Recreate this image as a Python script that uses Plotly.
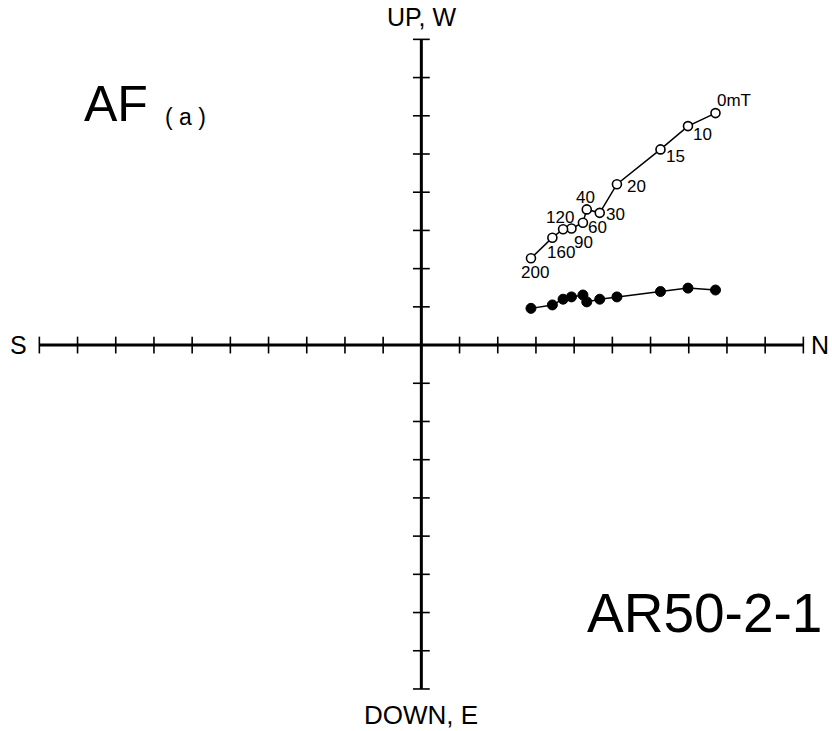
import plotly.graph_objects as go

# AF demagnetization steps (mT)
steps = ["0mT", "10", "15", "20", "30", "40", "60", "90", "120", "160", "200"]
# North component (shared by both projections), in axis-tick units
north = [7.70, 6.98, 6.26, 5.12, 4.67, 4.33, 4.23, 3.93, 3.71, 3.43, 2.87]
# Vertical projection (UP) - open circles
up = [6.07, 5.73, 5.12, 4.21, 3.46, 3.55, 3.20, 3.05, 3.03, 2.81, 2.27]
# Horizontal projection (W) - filled circles
west = [1.44, 1.49, 1.40, 1.26, 1.20, 1.13, 1.31, 1.26, 1.20, 1.05, 0.96]

x_ticks = list(range(-10, 11))
y_ticks = list(range(-9, 9))

# label pixel offsets relative to each open circle
label_dx = [19, 15, 15, 20, 16, -1, 15, 12, -3, 9, 4]
label_dy = [13, -8, -7, -2, -2, 12, -5, -14, 12, -15, -14]

FONT = "Liberation Sans, Arial, sans-serif"
fig = go.Figure()

# axes lines
fig.add_shape(type="line", x0=-10, x1=10, y0=0, y1=0, line=dict(color="black", width=3), layer="below")
fig.add_shape(type="line", x0=0, x1=0, y0=-9, y1=8, line=dict(color="black", width=3), layer="below")

# ticks
fig.add_trace(go.Scatter(x=x_ticks, y=[0] * len(x_ticks), mode="markers",
                         marker=dict(symbol="line-ns", size=12, line=dict(color="black", width=1.6)),
                         hoverinfo="skip", showlegend=False))
fig.add_trace(go.Scatter(x=[0] * len(y_ticks), y=y_ticks, mode="markers",
                         marker=dict(symbol="line-ew", size=12, line=dict(color="black", width=1.6)),
                         hoverinfo="skip", showlegend=False))

# horizontal projection (filled)
fig.add_trace(go.Scatter(x=north, y=west, mode="lines+markers",
                         line=dict(color="black", width=1.5),
                         marker=dict(symbol="circle", size=10, color="black",
                                     line=dict(color="black", width=1)),
                         showlegend=False))
# vertical projection (open)
fig.add_trace(go.Scatter(x=north, y=up, mode="lines+markers",
                         line=dict(color="black", width=1.5),
                         marker=dict(symbol="circle", size=9, color="white",
                                     line=dict(color="black", width=1.6)),
                         showlegend=False))

for s, xv, yv, dx, dy in zip(steps, north, up, label_dx, label_dy):
    fig.add_annotation(x=xv, y=yv, text=s, showarrow=False, xshift=dx, yshift=dy,
                       font=dict(family=FONT, size=17, color="black"))

# axis labels
fig.add_annotation(x=0, y=8, text="UP, W", showarrow=False, yanchor="bottom", yshift=6,
                   font=dict(family=FONT, size=25, color="black"))
fig.add_annotation(x=0, y=-9, text="DOWN, E", showarrow=False, yanchor="top", yshift=-9,
                   font=dict(family=FONT, size=26, color="black"))
fig.add_annotation(x=-10, y=0, text="S", showarrow=False, xanchor="right", xshift=-10,
                   font=dict(family=FONT, size=25, color="black"))
fig.add_annotation(x=10, y=0, text="N", showarrow=False, xanchor="left", xshift=6,
                   font=dict(family=FONT, size=25, color="black"))

# titles
fig.add_annotation(xref="paper", yref="paper", x=82 / 832, y=1 - 104 / 731, text="AF",
                   showarrow=False, xanchor="left", yanchor="middle",
                   font=dict(family=FONT, size=50, color="black"))
fig.add_annotation(xref="paper", yref="paper", x=163 / 832, y=1 - 117 / 731, text="( a )",
                   showarrow=False, xanchor="left", yanchor="middle",
                   font=dict(family=FONT, size=23, color="black"))
fig.add_annotation(xref="paper", yref="paper", x=824 / 832, y=1 - 613 / 731, text="AR50-2-1",
                   showarrow=False, xanchor="right", yanchor="middle",
                   font=dict(family=FONT, size=55, color="black"))

fig.update_layout(
    width=832, height=731,
    margin=dict(l=0, r=0, t=0, b=0),
    paper_bgcolor="white", plot_bgcolor="white",
    xaxis=dict(range=[-11.03, 10.75], visible=False, fixedrange=True),
    yaxis=dict(range=[-10.10, 9.03], visible=False, fixedrange=True),
    showlegend=False,
)

fig.write_html("out.html", config={"displayModeBar": False},
               post_script="document.body.style.margin='0';document.body.style.overflow='hidden';")
